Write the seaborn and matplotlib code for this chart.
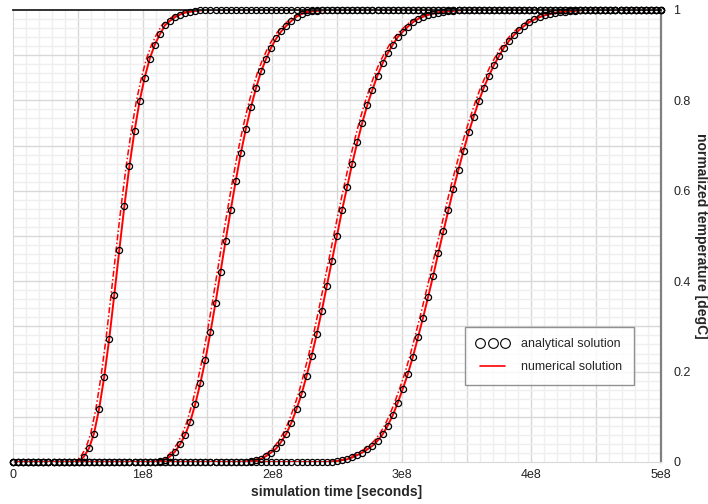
import numpy as np
import pandas as pd
import matplotlib
matplotlib.use("Agg")
import matplotlib.pyplot as plt
from matplotlib.lines import Line2D
import seaborn as sns

# sample times of the analytical points (129 points over 0..5e8 s)
sample_times = np.linspace(0, 5e8, 129)

curve1 = [0.0]*13 + [0.001, 0.012, 0.030, 0.063, 0.117, 0.187, 0.272, 0.369, 0.469, 0.566,
                     0.655, 0.732, 0.798, 0.850, 0.892, 0.923, 0.946, 0.966, 0.976, 0.984,
                     0.990, 0.994, 0.996, 0.998, 0.999] + [1.0]*91
curve2 = [0.0]*28 + [0.001, 0.002, 0.005, 0.012, 0.023, 0.039, 0.060, 0.089, 0.128, 0.174,
                     0.226, 0.287, 0.352, 0.421, 0.490, 0.557, 0.622, 0.683, 0.737, 0.785,
                     0.827, 0.864, 0.892, 0.917, 0.937, 0.953, 0.965, 0.976, 0.985, 0.991,
                     0.995, 0.997, 0.998, 0.999] + [1.0]*67
curve3 = [0.0]*46 + [0.001, 0.002, 0.004, 0.007, 0.013, 0.021, 0.030, 0.045, 0.063, 0.087,
                     0.117, 0.150, 0.191, 0.235, 0.283, 0.335, 0.390, 0.445, 0.501, 0.557,
                     0.609, 0.660, 0.707, 0.751, 0.790, 0.824, 0.855, 0.882, 0.904, 0.923,
                     0.940, 0.952, 0.963, 0.973, 0.980, 0.985, 0.989, 0.992, 0.994, 0.996,
                     0.997, 0.998, 0.999] + [1.0]*40
curve4 = [0.0]*63 + [0.001, 0.002, 0.004, 0.006, 0.010, 0.015, 0.021, 0.028, 0.036, 0.047,
                     0.061, 0.080, 0.103, 0.131, 0.162, 0.195, 0.233, 0.276, 0.319, 0.366,
                     0.412, 0.462, 0.510, 0.557, 0.604, 0.647, 0.689, 0.729, 0.764, 0.798,
                     0.828, 0.854, 0.878, 0.898, 0.917, 0.932, 0.945, 0.956, 0.965, 0.973,
                     0.979, 0.984, 0.988, 0.991, 0.993, 0.995, 0.996, 0.997, 0.998, 0.999] + [1.0]*16

x_ticks = [0, 1e8, 2e8, 3e8, 4e8, 5e8]
x_ticklabels = ["0", "1e8", "2e8", "3e8", "4e8", "5e8"]
y_ticks = [0, 0.2, 0.4, 0.6, 0.8, 1.0]
y_ticklabels = ["0", "0.2", "0.4", "0.6", "0.8", "1"]

# second numerical run arrives slightly earlier (dash-dot lines)
numerical_lead = 2.5e6

curves = {"x1": curve1, "x2": curve2, "x3": curve3, "x4": curve4}
frames = []
for name, vals in curves.items():
    frames.append(pd.DataFrame({"time": sample_times, "temp": vals, "point": name}))
data = pd.concat(frames, ignore_index=True)
data_lead = data.copy()
data_lead["time"] = data_lead["time"] - numerical_lead

sns.set_style("white")
plt.rcParams["font.family"] = ["Liberation Sans", "DejaVu Sans"]

fig = plt.figure(figsize=(7.08, 5.04), dpi=100)
ax = fig.add_axes([13/708, 42/504, 648/708, 452/504])

red = {k: "#ff0000" for k in curves}
sns.lineplot(data=data_lead, x="time", y="temp", hue="point", palette=red, units="point",
             estimator=None, lw=1.1, ax=ax, legend=False, sort=False)
for ln in ax.lines:
    ln.set_dashes([4, 1.5, 1, 1.5])
sns.lineplot(data=data, x="time", y="temp", hue="point", palette=red, units="point",
             estimator=None, lw=1.4, ax=ax, legend=False, sort=False)
ax.plot(data["time"], data["temp"], ls="none", marker="o", ms=4.4, mfc="none",
        mec="black", mew=0.9, zorder=5, clip_on=False)

ax.set_xlim(0, 5e8)
ax.set_ylim(0, 1)
ax.set_xticks(x_ticks)
ax.set_xticklabels(x_ticklabels)
ax.set_yticks(y_ticks)
ax.set_yticklabels(y_ticklabels)

# grid: light minor lines, slightly darker every 5e7 / 0.1
for i in range(1, 50):
    c = "#d8d8d8" if i % 5 == 0 else "#efefef"
    ax.axvline(i * 1e7, color=c, lw=1, zorder=0)
for i in range(1, 50):
    c = "#d8d8d8" if i % 5 == 0 else "#efefef"
    ax.axhline(i * 0.02, color=c, lw=1, zorder=0)

ax.yaxis.tick_right()
ax.yaxis.set_label_position("right")
ax.tick_params(axis="both", which="both", length=0, labelsize=9, colors="#222222")
ax.tick_params(axis="x", pad=5)
ax.tick_params(axis="y", pad=9)

ax.spines["top"].set_color("#222222")
ax.spines["top"].set_linewidth(1.3)
ax.spines["right"].set_color("#808080")
ax.spines["right"].set_linewidth(1.6)
ax.spines["left"].set_color("#d8d8d8")
ax.spines["bottom"].set_color("#d8d8d8")

ax.set_xlabel("simulation time [seconds]", fontsize=10, fontweight="bold", labelpad=3)
ax.set_ylabel("normalized temperature [degC]", fontsize=10, fontweight="bold",
              rotation=-90, labelpad=12)

handles = [
    Line2D([], [], ls="none", marker="o", ms=7, mfc="none", mec="black", mew=0.8),
    Line2D([], [], color="#ff0000", lw=1.2),
]
leg = ax.legend(handles, ["analytical solution", "numerical solution"], numpoints=3,
                loc="upper left", bbox_to_anchor=((465 - 13) / 648, (462 - 327) / 452),
                frameon=True, fancybox=False, fontsize=9, handlelength=2.6,
                handletextpad=1.0, borderpad=0.9, labelspacing=0.9, borderaxespad=0)
leg.get_frame().set_edgecolor("#777777")
leg.get_frame().set_linewidth(1.0)
leg.set_zorder(10)

fig.savefig("out.png", dpi=100)
